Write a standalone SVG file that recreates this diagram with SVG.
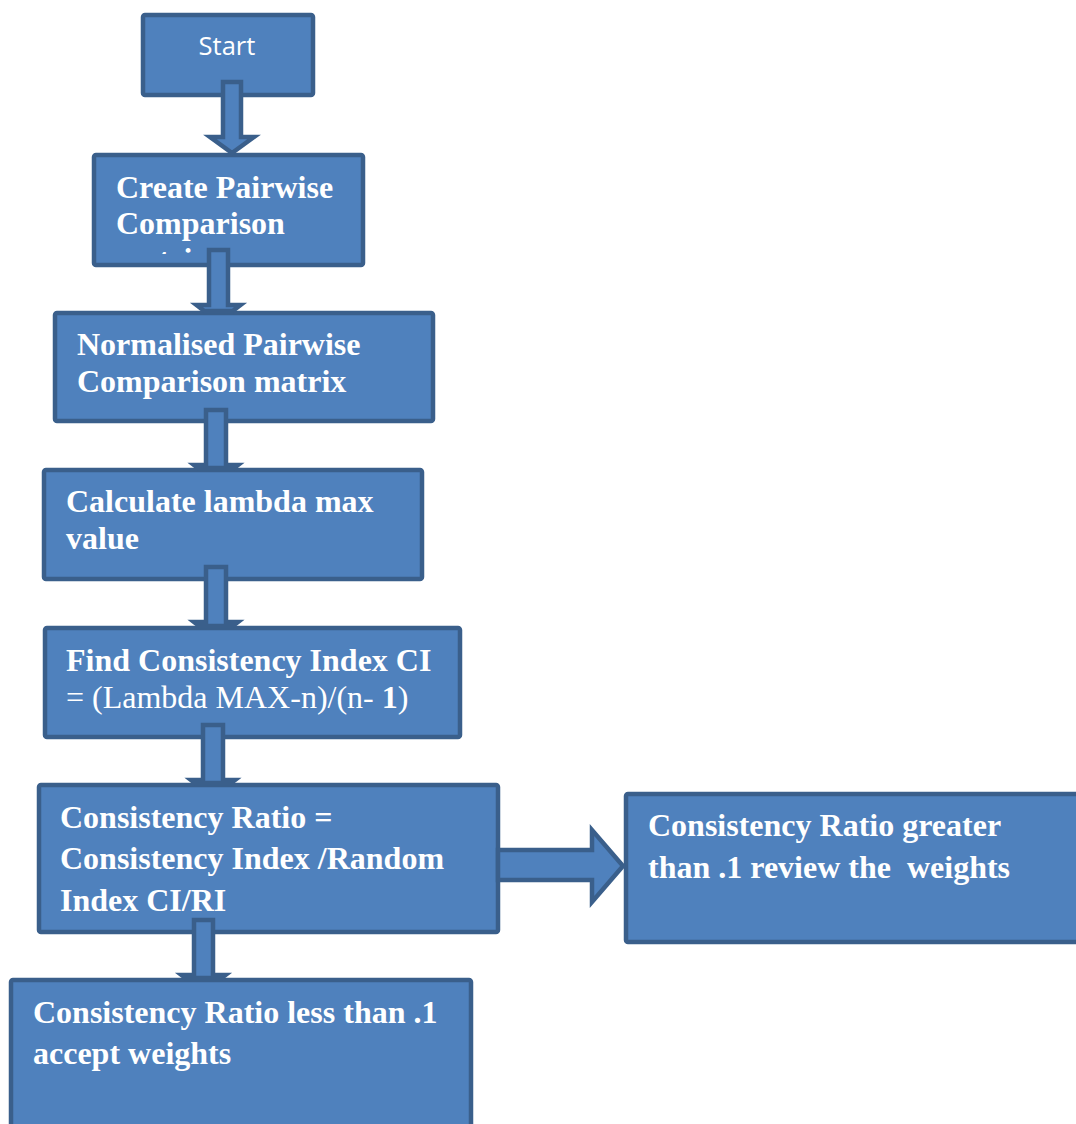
<svg xmlns="http://www.w3.org/2000/svg" width="1076" height="1124" viewBox="0 0 1076 1124">
<style>
.box{fill:#4F81BD;stroke:#3A5F8B;stroke-width:4.5;}
.arr{fill:#4F81BD;stroke:#3A5F8B;stroke-width:4.5;stroke-linejoin:miter;}
.t{font-family:"Liberation Serif","Times New Roman",serif;font-weight:bold;font-size:32px;fill:#FFFFFF;white-space:pre;}
.s{font-family:"Open Sans","Liberation Sans",sans-serif;font-size:25.5px;fill:#FFFFFF;}
.n{font-weight:normal;}
</style>
<defs>
<clipPath id="clip2"><rect x="96" y="157" width="265" height="97"/></clipPath>
</defs>
<rect width="1076" height="1124" fill="#FFFFFF"/>
<g id="start">
<rect class="box" x="143" y="15" width="170" height="80" rx="2"/>
<text class="s" x="227" y="55" text-anchor="middle">Start</text>
</g>
<g id="create-matrix">
<rect class="box" x="94" y="155" width="269" height="110" rx="2"/>
<g clip-path="url(#clip2)">
<text class="t" x="116" y="198">Create Pairwise</text>
<text class="t" x="116" y="234">Comparison</text>
<text class="t" x="116" y="270">matrix</text>
</g>
</g>
<g id="normalised">
<rect class="box" x="55" y="313" width="378" height="108" rx="2"/>
<text class="t" x="77" y="355">Normalised Pairwise</text>
<text class="t" x="77" y="392">Comparison matrix</text>
</g>
<g id="lambda">
<rect class="box" x="44" y="470" width="378" height="109" rx="2"/>
<text class="t" x="66" y="512">Calculate lambda max</text>
<text class="t" x="66" y="549">value</text>
</g>
<g id="ci">
<rect class="box" x="45" y="628" width="415" height="109" rx="2"/>
<text class="t" x="66" y="671">Find Consistency Index CI</text>
<text class="t" x="66" y="708"><tspan class="n">= (Lambda MAX-n)/(n- </tspan>1<tspan class="n">)</tspan></text>
</g>
<g id="cr">
<rect class="box" x="39" y="785" width="459" height="147" rx="2"/>
<text class="t" x="60" y="828">Consistency Ratio =</text>
<text class="t" x="60" y="869">Consistency Index /Random</text>
<text class="t" x="60" y="911">Index CI/RI</text>
</g>
<g id="review">
<rect class="box" x="626" y="794" width="470" height="148" rx="2"/>
<text class="t" x="648" y="836">Consistency Ratio greater</text>
<text class="t" x="648" y="878">than .1 review the  weights</text>
</g>
<g id="accept">
<rect class="box" x="11" y="980" width="460" height="160" rx="2"/>
<text class="t" x="33" y="1023">Consistency Ratio less than .1</text>
<text class="t" x="33" y="1064">accept weights</text>
</g>
<g id="connectors">
<polygon class="arr" points="223,82 241,82 241,137 254,137 232,153 210,137 223,137"/>
<polygon class="arr" points="209,250 228,250 228,305 240.5,305 232.7,311 204.3,311 196.5,305 209,305"/>
<polygon class="arr" points="206,410 226,410 226,465 238,465 234.1,468 197.9,468 194,465 206,465"/>
<polygon class="arr" points="206,567 226,567 226,622 238,622 232.8,626 199.2,626 194,622 206,622"/>
<polygon class="arr" points="203,725 223,725 223,780 235,780 231.1,783 194.9,783 191,780 203,780"/>
<polygon class="arr" points="194,920 213,920 213,975 225.5,975 221.6,978 185.4,978 181.5,975 194,975"/>
<polygon class="arr" points="498,850 592,850 592,830 623,866 592,902 592,880 498,880"/>
</g>
</svg>
